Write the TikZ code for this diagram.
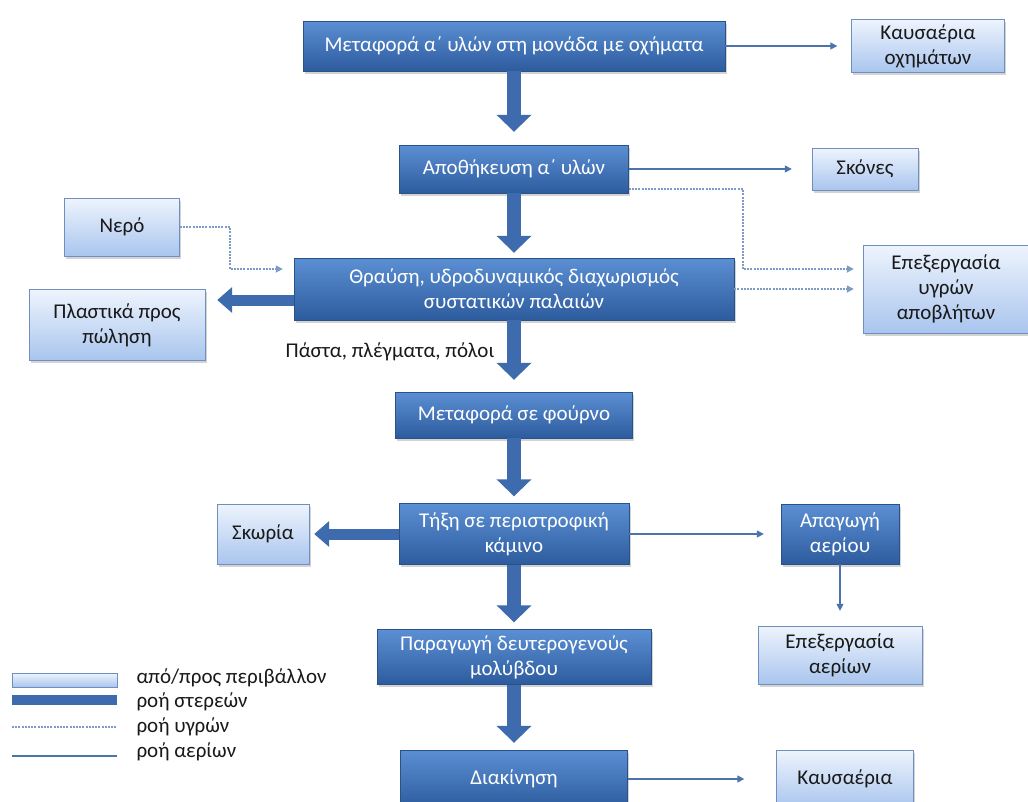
\documentclass[tikz,border=0pt]{standalone}
\usepackage{fontspec}
\setmainfont{Carlito}
\usetikzlibrary{arrows.meta, positioning, shadows}

\definecolor{boxtop}{HTML}{5B8FD3}
\definecolor{boxbot}{HTML}{2D5C9E}
\definecolor{boxline}{HTML}{2A5287}
\definecolor{envtop}{HTML}{EEF4FD}
\definecolor{envbot}{HTML}{A9C5EE}
\definecolor{envline}{HTML}{6F8FBF}
\definecolor{flowblue}{HTML}{3D6BAE}
\definecolor{gasblue}{HTML}{4C74AC}
\definecolor{liqblue}{HTML}{7E9BC8}

\tikzset{
  boxfont/.style = {font=\fontsize{21}{25}\selectfont},
  proc/.style = {draw=boxline, top color=boxtop, bottom color=boxbot, text=white,
    align=center, boxfont, drop shadow={shadow xshift=1.5pt, shadow yshift=-2.5pt, opacity=0.35}},
  env/.style = {draw=envline, top color=envtop, bottom color=envbot, text=black!90,
    align=center, boxfont, drop shadow={shadow xshift=1.5pt, shadow yshift=-2.5pt, opacity=0.35}},
  solidflow/.style = {draw=flowblue, line width=14pt, -{Triangle[width=34pt,length=17pt]}},
  sideflow/.style = {draw=flowblue, line width=11pt, -{Triangle[width=25pt,length=15pt]}},
  liquid/.style = {draw=liqblue, line width=1.6pt, dash pattern=on 2pt off 1.2pt, -{Triangle[width=7pt,length=7pt]}},
  gas/.style = {draw=gasblue, line width=1.3pt, -{Triangle[width=7pt,length=7pt]}}
}

\begin{document}
\begin{tikzpicture}[on grid]
  \useasboundingbox (0,0) rectangle (1028pt,-801pt);
  % main line
  \node[proc, minimum width=422pt, minimum height=50pt] (trans) at (514pt,-46pt) {Μεταφορά α΄ υλών στη μονάδα με οχήματα};
  \node[proc, minimum width=229pt, minimum height=48pt] (store) [below=123pt of trans] {Αποθήκευση α΄ υλών};
  \node[proc, minimum width=440pt, minimum height=62pt] (crush) [below=120pt of store] {Θραύση, υδροδυναμικός διαχωρισμός\\συστατικών παλαιών};
  \node[proc, minimum width=237pt, minimum height=46pt] (oven) [below=126pt of crush] {Μεταφορά σε φούρνο};
  \node[proc, minimum width=230pt, minimum height=61pt] (melt) [below=119pt of oven] {Τήξη σε περιστροφική\\κάμινο};
  \node[proc, minimum width=274pt, minimum height=55pt] (lead) [below=123pt of melt] {Παραγωγή δευτερογενούς\\μολύβδου};
  \node[proc, minimum width=227pt, minimum height=58pt] (ship) [below=122pt of lead] {Διακίνηση};

  % side boxes
  \node[env, minimum width=153pt, minimum height=53pt] (exhveh) [right=414pt of trans] {Καυσαέρια\\οχημάτων};
  \node[env, minimum width=106pt, minimum height=42pt] (dust) [right=351pt of store] {Σκόνες};
  \node[env, minimum width=166pt, minimum height=88pt] (waste) [right=432pt of crush] {Επεξεργασία\\υγρών\\αποβλήτων};
  \node[env, minimum width=115pt, minimum height=58pt] (water) at (122pt,-227pt) {Νερό};
  \node[env, minimum width=176pt, minimum height=71pt] (plastic) at (117pt,-325pt) {Πλαστικά προς\\πώληση};
  \node[env, minimum width=92pt, minimum height=60pt] (slag) [left=251pt of melt] {Σκωρία};
  \node[proc, minimum width=118pt, minimum height=60pt] (gasout) [right=326pt of melt] {Απαγωγή\\αερίου};
  \node[env, minimum width=164pt, minimum height=58pt] (gastreat) [below=121pt of gasout] {Επεξεργασία\\αερίων};
  \node[env, minimum width=137pt, minimum height=58pt] (exhaust) [right=331pt of ship] {Καυσαέρια};
  \node[boxfont, text=black!90] (paste) at (390pt,-352pt) {Πάστα, πλέγματα, πόλοι};

  % solids
  \draw[solidflow, shorten >=13pt] (trans) -- (store);
  \draw[solidflow, shorten >=5pt] (store) -- (crush);
  \draw[solidflow, shorten >=12pt] (crush) -- (oven);
  \draw[solidflow, shorten >=7pt] (oven) -- (melt);
  \draw[solidflow, shorten >=7pt] (melt) -- (lead);
  \draw[solidflow, shorten >=7pt] (lead) -- (ship);
  \draw[sideflow, shorten >=12pt] ([yshift=-11pt]crush.west) -- ([yshift=-11pt]crush.west -| plastic.east);
  \draw[sideflow, shorten >=5pt] (melt) -- (slag);

  % liquids
  \draw[liquid, shorten >=11pt] (water.east) -- ++(50pt,0) |- ([yshift=20pt]crush.west);
  \draw[liquid, shorten >=9pt] ([yshift=-20pt]store.east) -- ++(114pt,0) |- ([yshift=20pt]waste.west);
  \draw[liquid, shorten >=9pt] (crush.east) -- (crush.east -| waste.west);

  % gases
  \draw[gas, shorten >=14pt] (trans.east) -- (trans.east -| exhveh.west);
  \draw[gas, shorten >=20pt] (store.east) -- (store.east -| dust.west);
  \draw[gas, shorten >=17pt] (melt) -- (gasout);
  \draw[gas, shorten >=15pt] (gasout) -- (gastreat);
  \draw[gas, shorten >=32pt] (ship) -- (exhaust);

  % legend
  \draw[draw=envline, top color=envtop, bottom color=envbot] (12pt,-673pt) rectangle (117pt,-687pt);
  \fill[flowblue] (12pt,-695pt) rectangle (117pt,-705pt);
  \draw[liqblue, line width=1.6pt, dash pattern=on 2pt off 1.2pt] (12pt,-727pt) -- (117pt,-727pt);
  \draw[gasblue, line width=1.3pt] (12pt,-756pt) -- (117pt,-756pt);
  \node[boxfont, text=black!90, anchor=west] (legenv) at (133pt,-678pt) {από/προς περιβάλλον};
  \node[boxfont, text=black!90, anchor=west] (legsol) at (133pt,-702pt) {ροή στερεών};
  \node[boxfont, text=black!90, anchor=west] (legliq) at (133pt,-727pt) {ροή υγρών};
  \node[boxfont, text=black!90, anchor=west] (leggas) at (133pt,-752pt) {ροή αερίων};
\end{tikzpicture}
\end{document}
